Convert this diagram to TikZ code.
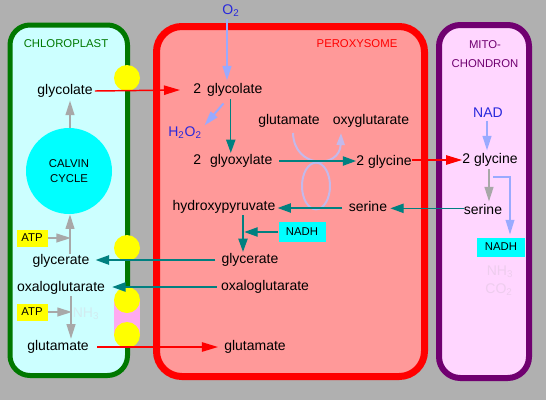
\documentclass[tikz,border=0pt]{standalone}
\usepackage{fontspec}
\setmainfont{Liberation Sans}
\usetikzlibrary{arrows.meta}
\definecolor{bg}{RGB}{176,176,176}
\definecolor{chlfill}{RGB}{204,255,255}
\definecolor{chlgreen}{RGB}{0,120,0}
\definecolor{perfill}{RGB}{255,153,153}
\definecolor{perred}{RGB}{255,0,0}
\definecolor{mitfill}{RGB}{255,214,255}
\definecolor{mitpurple}{RGB}{112,0,112}
\definecolor{tealc}{RGB}{0,128,128}
\definecolor{grayc}{RGB}{168,168,168}
\definecolor{lblue}{RGB}{153,170,255}
\definecolor{lav}{RGB}{195,185,235}
\definecolor{pinkrect}{RGB}{255,170,240}
\definecolor{dblue}{RGB}{40,40,220}
\definecolor{faintc}{RGB}{210,235,240}
\definecolor{faintm}{RGB}{238,205,238}
\definecolor{yel}{RGB}{255,255,0}
\definecolor{cyanc}{RGB}{0,255,255}
\begin{document}
\begin{tikzpicture}[x=0.75pt,y=-0.75pt,
  font=\fontsize{10.5}{12}\selectfont,
  lbl/.style={inner sep=0pt},
  smalllbl/.style={inner sep=0pt,font=\fontsize{8.5}{11.25}\selectfont,align=center},
  box/.style={inner sep=0pt,font=\fontsize{8.5}{10}\selectfont,minimum height=12.75pt},
  redarr/.style={draw=perred,line width=1.1pt,-{Triangle[length=12pt,width=7pt]}},
  tealarr/.style={draw=tealc,line width=1pt,-{Triangle[length=10pt,width=7pt]}},
  grayarr/.style={draw=grayc,line width=1.5pt,-{Triangle[length=11pt,width=6.5pt]}},
  bluearr/.style={draw=lblue,line width=1.5pt,-{Triangle[length=11pt,width=6.5pt]}},
  thinblue/.style={draw=lblue,line width=1.1pt,-{Triangle[length=11pt,width=6.5pt]}},
]
\fill[bg] (0,0) rectangle (546,400);
\useasboundingbox (0,0) rectangle (546,400);

% compartments
\draw[chlgreen,line width=3.75pt,fill=chlfill,rounded corners=15pt] (10,25) rectangle (127.5,375.5);
\draw[perred,line width=5.25pt,fill=perfill,rounded corners=19pt] (156.5,26.5) rectangle (424.5,376.5);
\draw[mitpurple,line width=4.5pt,fill=mitfill,rounded corners=16pt] (439,25) rectangle (529,378);

% transporters
\fill[yel] (127,78) circle[radius=9.75pt];
\fill[yel] (127,248) circle[radius=9.75pt];
\fill[pinkrect] (114,300) rectangle (140,335);
\fill[yel] (127,300) circle[radius=9.75pt];
\fill[yel] (127,335) circle[radius=9.75pt];

% labels
\node[smalllbl,text=chlgreen] (chl) at (66,44) {CHLOROPLAST};
\node[smalllbl,text=perred] (per) at (357,44) {PEROXYSOME};
\node[smalllbl,text=mitpurple,font=\fontsize{8.5}{14.25}\selectfont] (mit) at (485,54) {MITO-\\CHONDRON};

% chloroplast
\node[circle,fill=cyanc,minimum size=64.5pt,inner sep=0pt,font=\fontsize{8.5}{11.25}\selectfont,align=center] (calvin) at (69,171) {CALVIN\\CYCLE};
\node[lbl] (glyL) at (65,91) {glycolate};
\node[lbl] (glyceL) at (61,261) {glycerate};
\node[lbl] (oxaloL) at (61,288) {oxaloglutarate};
\node[lbl] (glutL) at (58,347) {glutamate};
\node[box,fill=yel,minimum width=23.25pt] (atp1) at (32,238) {ATP};
\node[box,fill=yel,minimum width=23.25pt] (atp2) at (32,312) {ATP};
\node[lbl,text=faintc] (nh3L) at (86,314) {NH\textsubscript{3}};

% peroxisome
\node[lbl,text=dblue] (o2) at (231,11) {O\textsubscript{2}};
\node[lbl,anchor=west] (glyP) at (193,90) {2\hspace{4.5pt}glycolate};
\node[lbl,text=dblue] (h2o2) at (185,133) {H\textsubscript{2}O\textsubscript{2}};
\node[lbl,anchor=west] (glyox) at (193,161) {2\hspace{6.75pt}glyoxylate};
\node[lbl] (glutP) at (289,121) {glutamate};
\node[lbl] (oxyg) at (371,121) {oxyglutarate};
\node[lbl] (glyciP) at (384,162) {2 glycine};
\node[lbl] (hydroxy) at (224,207) {hydroxypyruvate};
\node[lbl] (serP) at (368,206) {serine};
\node[box,fill=cyanc,minimum width=35.25pt,minimum height=15pt] (nadhP) at (302,232) {NADH};
\node[lbl] (glyceP) at (250,260) {glycerate};
\node[lbl] (oxaloP) at (265,287) {oxaloglutarate};
\node[lbl] (glutP2) at (255,347) {glutamate};

% mitochondrion
\node[lbl,text=dblue] (nad) at (488,113) {NAD};
\node[lbl] (glyciM) at (490,160) {2 glycine};
\node[lbl] (serM) at (483,209) {serine};
\node[box,fill=cyanc,minimum width=36pt,minimum height=14.25pt] (nadhM) at (501,247) {NADH};
\node[lbl,text=faintm] (nh3M) at (500,272) {NH\textsubscript{3}};
\node[lbl,text=faintm] (co2M) at (499,290) {CO\textsubscript{2}};

% lavender transamination loops
\draw[lav,line width=1.5pt,-{Triangle[length=9pt,width=6pt]}] (293,133) .. controls (294,169) and (340,169) .. (341,133);
\draw[lav,line width=1.5pt] (316,186) ellipse[x radius=10.5pt,y radius=17.5pt];

% red transport arrows
\draw[redarr] ([xshift=1.5pt]glyL.east) -- ([xshift=-9.75pt]glyP.west);
\draw[redarr] ([xshift=6pt]glutL.east) -- ([xshift=-4.5pt]glutL.east -| glutP2.west);
\draw[redarr] (glyciP.east |- glyciM.west) -- (glyciM.west);

% teal arrows
\coordinate (vg) at ([xshift=-1.5pt]glyox.north);
\draw[tealarr] ([yshift=-2pt]vg |- glyP.south) -- ([yshift=1pt]vg);
\draw[tealarr] ([xshift=5pt]glyox.east) -- (glyox.east -| glyciP.west);
\draw[tealarr] ([xshift=-5pt,yshift=-1.5pt]serP.west) -- ([xshift=1.5pt,yshift=-1.5pt]serP.west -| hydroxy.east);
\draw[tealarr] ([yshift=0.5pt]serM.west) -- ([xshift=2.25pt,yshift=0.5pt]serM.west -| serP.east);
\draw[tealarr] ([xshift=14.25pt,yshift=-1pt]hydroxy.south) coordinate (vt) -- ([yshift=1pt]vt |- glyceP.north);
\draw[tealarr] (nadhP.west) -- ([xshift=1pt]nadhP.west -| vt);
\draw[tealarr] ([xshift=-4.5pt]glyceP.west) -- ([xshift=4.5pt]glyceP.west -| glyceL.east);
\draw[tealarr] ([xshift=-3pt]oxaloP.west) -- ([xshift=5.25pt]oxaloP.west -| oxaloL.east);

% gray arrows
\draw[grayarr] ([xshift=0.75pt]calvin.north) -- ([xshift=0.75pt,yshift=-2pt]calvin.north |- glyL.south);
\draw[grayarr] ([xshift=0.75pt]glyceL.north -| calvin.south) -- ([xshift=0.75pt]calvin.south);
\draw[grayarr] (atp1.east) -- ([xshift=1.5pt]atp1.east -| calvin.south);
\draw[grayarr] ([xshift=7.5pt,yshift=-1pt]oxaloL.south) coordinate (v2) -- ([yshift=1pt]v2 |- glutL.north);
\draw[grayarr] (atp2.east) -- ([xshift=0.75pt]atp2.east -| v2);
\draw[grayarr] ([xshift=-0.75pt,yshift=-2pt]glyciM.south) -- ([xshift=-0.75pt,yshift=1.5pt]glyciM.south |- serM.north);

% light blue arrows
\draw[bluearr] ([xshift=-3pt,yshift=-1.5pt]o2.south) -- ([xshift=-3pt,yshift=2pt]o2.south |- glyP.north);
\draw[bluearr] ([xshift=-5.5pt,yshift=-5pt]vg |- glyP.south) -- ([xshift=2pt,yshift=1pt]h2o2.north east);
\draw[bluearr] ([xshift=-0.75pt,yshift=-2pt]nad.south) -- ([xshift=-0.75pt,yshift=2pt]nad.south |- glyciM.north);
\draw[thinblue] ([xshift=2.25pt,yshift=-7.5pt]glyciM.south) -| ([xshift=6.75pt,yshift=2pt]nadhM.north);
\end{tikzpicture}
\end{document}
